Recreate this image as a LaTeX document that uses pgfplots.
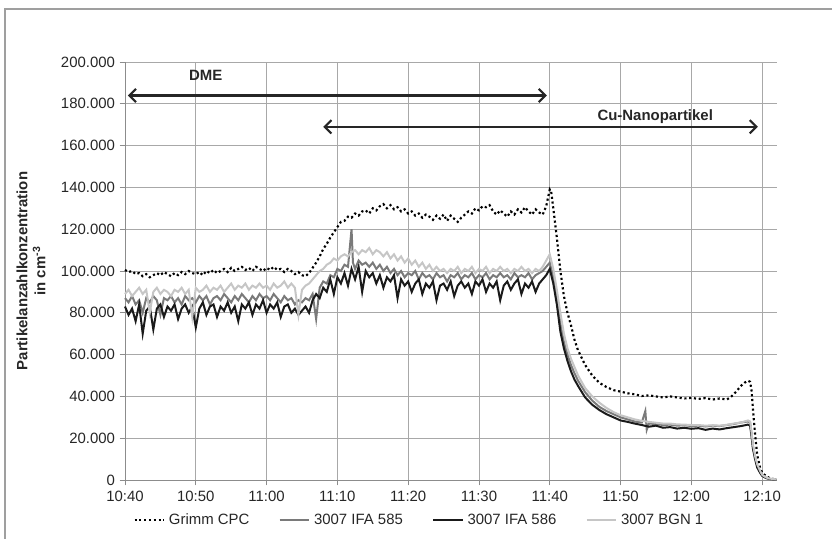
\documentclass[border=0pt]{standalone}
\usepackage{fontspec}
\setmainfont{Liberation Sans}
\usepackage{pgfplots}
\usepackage{pgfplotstable}
\pgfplotsset{compat=1.18}
\usetikzlibrary{arrows.meta}
\definecolor{gridgray}{HTML}{A8A8A8}
\definecolor{axisgray}{HTML}{8C8C8C}
\definecolor{midgray}{HTML}{7A7A7A}
\definecolor{lightgray}{HTML}{C6C6C6}
\definecolor{darkline}{HTML}{1A1A1A}

\pgfplotstableread[row sep=\\]{x y\\
0 100.5\\ 0.5 99.5\\ 1 100\\ 1.5 98.5\\ 2 99\\ 2.5 97.5\\ 3 98.5\\ 3.5 97\\ 4 98\\ 4.5 99\\ 5 98\\ 5.5 99.5\\ 6 98.5\\ 6.5 97.5\\ 7 99\\ 7.5 98\\ 8 99.5\\ 8.5 98.5\\ 9 100\\ 9.5 99\\
10 98.5\\ 10.5 99.5\\ 11 98\\ 11.5 100\\ 12 99\\ 12.5 100.5\\ 13 99\\ 13.5 100\\ 14 101\\ 14.5 99.5\\ 15 101.5\\ 15.5 100\\ 16 101\\ 16.5 102\\ 17 100.5\\ 17.5 101.5\\ 18 100\\ 18.5 102\\ 19 101\\ 19.5 100\\
20 101.5\\ 20.5 100.5\\ 21 102\\ 21.5 100.5\\ 22 101\\ 22.5 99.5\\ 23 101\\ 23.5 100\\ 24 98.5\\ 24.5 99.5\\ 25 98\\ 25.5 97.5\\ 26 99\\ 26.5 101.5\\ 27 104\\ 27.5 107\\ 28 110.5\\ 28.5 113\\ 29 116\\ 29.5 118.5\\
30 121\\ 30.5 123.5\\ 31 124\\ 31.5 126\\ 32 125.5\\ 32.5 127.5\\ 33 126.5\\ 33.5 128.5\\ 34 129\\ 34.5 127.5\\ 35 130\\ 35.5 129\\ 36 131\\ 36.5 132\\ 37 130\\ 37.5 131.5\\ 38 129.5\\ 38.5 130.5\\ 39 128.5\\ 39.5 129.5\\
40 127.5\\ 40.5 128.5\\ 41 126.5\\ 41.5 127.5\\ 42 125.5\\ 42.5 127\\ 43 126\\ 43.5 124.5\\ 44 126.5\\ 44.5 125\\ 45 127\\ 45.5 124\\ 46 126.5\\ 46.5 125\\ 47 123.5\\ 47.5 125.5\\ 48 127\\ 48.5 128.5\\ 49 127.5\\ 49.5 130\\
50 129\\ 50.5 131\\ 51 130.5\\ 51.5 131.5\\ 52 128.5\\ 52.5 127\\ 53 129\\ 53.5 127.5\\ 54 126\\ 54.5 128.5\\ 55 127\\ 55.5 129.5\\ 56 128\\ 56.5 130.5\\ 57 128.5\\ 57.5 127\\ 58 129.5\\ 58.5 128\\ 59 127\\ 59.5 131\\
60 139\\ 60.2 138\\ 60.5 130\\ 61 116\\ 61.5 100\\ 62 88\\ 62.5 80\\ 63 74\\ 63.5 67\\ 64 62\\ 65 55\\ 66 50\\ 67 46.5\\ 68 44.5\\ 69 43\\ 70 42.3\\ 71 41.5\\ 72 41\\ 73 40.2\\ 74 40.5\\
75 40\\ 76 39.5\\ 77 40\\ 78 39.5\\ 79 39\\ 80 39.3\\ 81 38.8\\ 82 39.2\\ 83 38.5\\ 84 39\\ 85 38.5\\ 85.5 39.5\\ 86 41\\ 86.5 43\\ 87 45\\ 87.5 46.5\\ 88 47.5\\ 88.3 47\\ 88.5 43\\ 88.7 34\\
89 22\\ 89.3 12\\ 89.7 6\\ 90 3.5\\ 90.5 2\\ 91 1\\ 91.5 0.5\\ 92 0.3\\
}\grimm

\pgfplotstableread[row sep=\\]{x y\\
0 87\\ 0.5 85\\ 1 88\\ 1.5 84\\ 2 86\\ 2.5 80\\ 3 87\\ 3.5 85\\ 4 88\\ 4.5 86\\ 5 79\\ 5.5 87\\ 6 86\\ 6.5 88\\ 7 85\\ 7.5 87\\ 8 84\\ 8.5 88\\ 9 86\\ 9.5 87\\
10 85\\ 10.5 88\\ 11 86\\ 11.5 88\\ 12 84\\ 12.5 87\\ 13 88\\ 13.5 86\\ 14 89\\ 14.5 87\\ 15 85\\ 15.5 88\\ 16 86\\ 16.5 89\\ 17 87\\ 17.5 85\\ 18 88\\ 18.5 86\\ 19 89\\ 19.5 87\\
20 88\\ 20.5 86\\ 21 89\\ 21.5 87\\ 22 85\\ 22.5 88\\ 23 86\\ 23.5 87\\ 24 84\\ 24.5 86\\ 25 85\\ 25.5 87\\ 26 86\\ 26.5 89\\ 27 77\\ 27.5 92\\ 28 95\\ 28.5 94\\ 29 98\\ 29.5 97\\
30 101\\ 30.5 100\\ 31 103\\ 31.5 102\\ 32 120\\ 32.2 104\\ 32.5 101\\ 33 105\\ 33.5 103\\ 34 104\\ 34.5 102\\ 35 104\\ 35.5 101\\ 36 103\\ 36.5 100\\ 37 102\\ 37.5 99\\ 38 101\\ 38.5 98\\ 39 100\\ 39.5 97\\
40 99\\ 40.5 98\\ 41 100\\ 41.5 96\\ 42 99\\ 42.5 97\\ 43 98\\ 43.5 96\\ 44 99\\ 44.5 97\\ 45 98\\ 45.5 95\\ 46 98\\ 46.5 97\\ 47 99\\ 47.5 96\\ 48 98\\ 48.5 97\\ 49 99\\ 49.5 96\\
50 98\\ 50.5 97\\ 51 99\\ 51.5 96\\ 52 98\\ 52.5 97\\ 53 99\\ 53.5 97\\ 54 98\\ 54.5 96\\ 55 99\\ 55.5 97\\ 56 98\\ 56.5 97\\ 57 99\\ 57.5 96\\ 58 98\\ 58.5 99\\ 59 100\\ 59.5 102\\
60 104\\ 60.5 97\\ 61 87\\ 61.5 75\\ 62 66\\ 62.5 60\\ 63 55\\ 63.5 51\\ 64 47.5\\ 65 42\\ 66 38\\ 67 35\\ 68 33\\ 69 31.5\\ 70 30\\ 71 29\\ 72 28\\ 73 27.5\\ 73.5 33\\ 73.7 24\\ 74 27\\
75 26.8\\ 76 26.3\\ 77 26.5\\ 78 26\\ 79 26.2\\ 80 25.8\\ 81 26\\ 82 25.6\\ 83 26\\ 84 25.8\\ 85 26.3\\ 86 26.8\\ 87 27.5\\ 88 28\\ 88.3 27.5\\ 88.5 22\\ 88.7 16\\ 89 11\\ 89.3 7\\ 89.7 4\\
90 2.3\\ 90.5 1.2\\ 91 0.6\\ 92 0.2\\
}\ifafive

\pgfplotstableread[row sep=\\]{x y\\
0 83\\ 0.5 79\\ 1 82\\ 1.5 76\\ 2 84\\ 2.5 70\\ 3 81\\ 3.5 83\\ 4 72\\ 4.5 82\\ 5 84\\ 5.5 78\\ 6 83\\ 6.5 81\\ 7 84\\ 7.5 77\\ 8 82\\ 8.5 84\\ 9 80\\ 9.5 83\\
10 73\\ 10.5 82\\ 11 85\\ 11.5 79\\ 12 83\\ 12.5 84\\ 13 78\\ 13.5 83\\ 14 81\\ 14.5 85\\ 15 80\\ 15.5 83\\ 16 76\\ 16.5 84\\ 17 82\\ 17.5 85\\ 18 79\\ 18.5 84\\ 19 82\\ 19.5 86\\
20 80\\ 20.5 84\\ 21 82\\ 21.5 85\\ 22 78\\ 22.5 83\\ 23 84\\ 23.5 80\\ 24 82\\ 24.5 79\\ 25 81\\ 25.5 83\\ 26 80\\ 26.5 86\\ 27 89\\ 27.5 87\\ 28 92\\ 28.5 90\\ 29 96\\ 29.5 89\\
30 97\\ 30.5 94\\ 31 99\\ 31.5 93\\ 32 101\\ 32.5 96\\ 33 102\\ 33.5 90\\ 34 100\\ 34.5 97\\ 35 99\\ 35.5 94\\ 36 98\\ 36.5 92\\ 37 97\\ 37.5 95\\ 38 98\\ 38.5 87\\ 39 96\\ 39.5 93\\
40 95\\ 40.5 90\\ 41 94\\ 41.5 96\\ 42 89\\ 42.5 94\\ 43 92\\ 43.5 95\\ 44 86\\ 44.5 93\\ 45 94\\ 45.5 91\\ 46 95\\ 46.5 88\\ 47 93\\ 47.5 95\\ 48 92\\ 48.5 94\\ 49 89\\ 49.5 95\\
50 93\\ 50.5 96\\ 51 90\\ 51.5 94\\ 52 92\\ 52.5 95\\ 53 86\\ 53.5 93\\ 54 95\\ 54.5 91\\ 55 94\\ 55.5 96\\ 56 89\\ 56.5 94\\ 57 92\\ 57.5 95\\ 58 90\\ 58.5 94\\ 59 96\\ 59.5 98\\
60 101\\ 60.5 94\\ 61 84\\ 61.5 71\\ 62 63\\ 62.5 57\\ 63 52\\ 63.5 48\\ 64 45\\ 65 39.5\\ 66 36\\ 67 33.5\\ 68 31.5\\ 69 30\\ 70 28.5\\ 71 27.8\\ 72 27\\ 73 26.3\\ 74 25.5\\
75 26\\ 76 25\\ 77 25.3\\ 78 24.6\\ 79 25\\ 80 24.5\\ 81 24.8\\ 82 24\\ 83 24.6\\ 84 24.2\\ 85 24.8\\ 86 25.3\\ 87 25.8\\ 88 26.5\\ 88.3 26\\ 88.5 21\\ 88.7 15\\ 89 10\\ 89.3 6\\ 89.7 3.5\\
90 2\\ 90.5 1\\ 91 0.5\\ 92 0.2\\
}\ifasix

\pgfplotstableread[row sep=\\]{x y\\
0 89\\ 0.5 91\\ 1 88\\ 1.5 90\\ 2 92\\ 2.5 89\\ 3 91\\ 3.5 80\\ 4 90\\ 4.5 92\\ 5 89\\ 5.5 91\\ 6 90\\ 6.5 88\\ 7 91\\ 7.5 90\\ 8 92\\ 8.5 89\\ 9 91\\ 9.5 78\\
10 92\\ 10.5 90\\ 11 91\\ 11.5 93\\ 12 90\\ 12.5 92\\ 13 91\\ 13.5 93\\ 14 90\\ 14.5 92\\ 15 94\\ 15.5 91\\ 16 93\\ 16.5 92\\ 17 94\\ 17.5 91\\ 18 93\\ 18.5 92\\ 19 94\\ 19.5 92\\
20 93\\ 20.5 91\\ 21 94\\ 21.5 92\\ 22 93\\ 22.5 95\\ 23 92\\ 23.5 94\\ 24 92\\ 24.5 79\\ 25 91\\ 25.5 93\\ 26 94\\ 26.5 96\\ 27 98\\ 27.5 100\\ 28 101\\ 28.5 103\\ 29 104\\ 29.5 106\\
30 105\\ 30.5 107\\ 31 108\\ 31.5 107\\ 32 109\\ 32.5 110\\ 33 108\\ 33.5 110\\ 34 109\\ 34.5 111\\ 35 108\\ 35.5 110\\ 36 109\\ 36.5 107\\ 37 109\\ 37.5 106\\ 38 108\\ 38.5 105\\ 39 107\\ 39.5 104\\
40 106\\ 40.5 103\\ 41 105\\ 41.5 102\\ 42 104\\ 42.5 101\\ 43 103\\ 43.5 100\\ 44 102\\ 44.5 100\\ 45 101\\ 45.5 99\\ 46 101\\ 46.5 100\\ 47 102\\ 47.5 99\\ 48 101\\ 48.5 100\\ 49 102\\ 49.5 99\\
50 101\\ 50.5 100\\ 51 102\\ 51.5 99\\ 52 101\\ 52.5 100\\ 53 102\\ 53.5 100\\ 54 101\\ 54.5 99\\ 55 101\\ 55.5 100\\ 56 102\\ 56.5 100\\ 57 101\\ 57.5 99\\ 58 101\\ 58.5 100\\ 59 102\\ 59.5 105\\
60 108\\ 60.5 101\\ 61 91\\ 61.5 80\\ 62 70\\ 62.5 63\\ 63 58\\ 63.5 54\\ 64 50\\ 65 44\\ 66 40\\ 67 37\\ 68 34.5\\ 69 32.5\\ 70 31\\ 71 30\\ 72 29\\ 73 28.3\\ 74 27.8\\
75 27.4\\ 76 27\\ 77 27\\ 78 26.6\\ 79 26.5\\ 80 26.3\\ 81 26.3\\ 82 26\\ 83 26.2\\ 84 26\\ 85 26.4\\ 86 27\\ 87 27.5\\ 88 28.5\\ 88.3 28\\ 88.5 23\\ 88.7 17\\ 89 11.5\\ 89.3 7.5\\ 89.7 4.5\\
90 2.5\\ 90.5 1.3\\ 91 0.7\\ 92 0.3\\
}\bgn

\begin{document}
\begin{tikzpicture}
\useasboundingbox (0,0) rectangle (624pt,404.25pt);
\draw[color=gray!75, line width=0.8pt] (3.75pt,0) -- (3.75pt,397.5pt) -- (624pt,397.5pt);
\begin{axis}[
  at={(93.75pt,44.25pt)}, anchor=south west,
  scale only axis, width=489pt, height=313.5pt,
  xmin=0, xmax=92.1, ymin=0, ymax=200,
  axis x line*=bottom, axis y line*=left,
  xtick={0,10,...,90},
  xticklabels={10:40,10:50,11:00,11:10,11:20,11:30,11:40,11:50,12:00,12:10},
  ytick={0,20,...,200},
  yticklabels={0,20.000,40.000,60.000,80.000,100.000,120.000,140.000,160.000,180.000,200.000},
  grid=major, major grid style={color=gridgray, line width=0.6pt},
  axis line style={color=axisgray, line width=0.7pt},
  tick align=outside, major tick length=4pt, tick style={color=axisgray, line width=0.6pt},
  ticklabel style={font=\fontsize{11.2}{13}\selectfont, color=black!85},
  xticklabel style={yshift=-1pt},
  ylabel={Partikelanzahlkonzentration\\in cm\textsuperscript{-3}},
  every axis y label/.style={at={(axis description cs:-0.144,0.5)}, rotate=90, anchor=center,
    font=\bfseries\fontsize{11.2}{13.5}\selectfont, align=center, color=black!85},
  legend columns=4,
  legend style={at={(axis description cs:0.452,-0.0957)}, anchor=center, draw=none, fill=none,
    font=\fontsize{11.2}{13}\selectfont, text=black!85,
    /tikz/every even column/.append style={column sep=20pt},
    /tikz/every odd column/.append style={column sep=1pt}},
  legend image code/.code={\draw[#1] (0pt,0pt) -- (22pt,0pt);},
  clip=false,
]
\addplot[color=black, line width=1.6pt, dotted] table[x=x,y=y] {\grimm};
\addlegendentry{Grimm CPC}
\addplot[color=midgray, line width=1.5pt] table[x=x,y=y] {\ifafive};
\addlegendentry{3007 IFA 585}
\addplot[color=darkline, line width=1.5pt] table[x=x,y=y] {\ifasix};
\addlegendentry{3007 IFA 586}
\addplot[color=lightgray, line width=1.5pt] table[x=x,y=y] {\bgn};
\addlegendentry{3007 BGN 1}
\draw[line width=1.6pt, color=black!85, {Straight Barb[length=5pt,width=10pt]}-{Straight Barb[length=5pt,width=10pt]}] (axis cs:0.4,184) -- (axis cs:59.6,184);
\draw[line width=1.6pt, color=black!85, {Straight Barb[length=5pt,width=10pt]}-{Straight Barb[length=5pt,width=10pt]}] (axis cs:28,169) -- (axis cs:89.4,169);
\node[font=\bfseries\fontsize{11.2}{13}\selectfont, color=black!85] at (axis cs:11.4,193.8) {DME};
\node[font=\bfseries\fontsize{11.2}{13}\selectfont, color=black!85] at (axis cs:74.9,174) {Cu-Nanopartikel};
\end{axis}
\end{tikzpicture}
\end{document}
